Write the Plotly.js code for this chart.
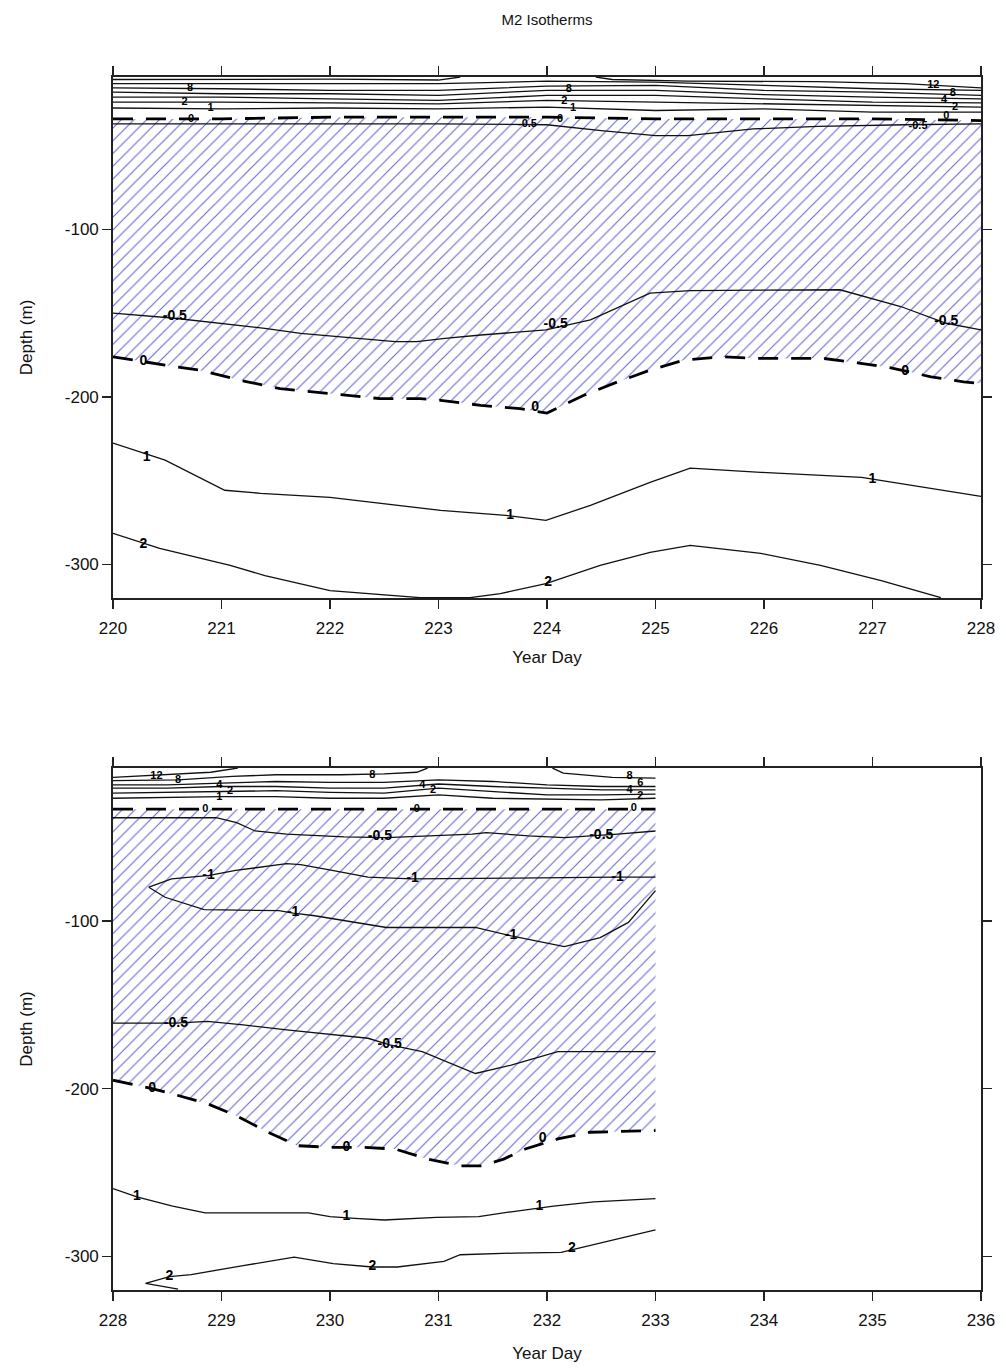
<!DOCTYPE html>
<html><head><meta charset="utf-8">
<script src="https://cdn.plot.ly/plotly-3.0.1.min.js"></script>
<style>body{margin:0;background:#fff}#chart{width:1006px;height:1369px}</style>
</head><body><div id="chart"></div>
<script>
// ---------- TOP PANEL (Year Day 220-228) ----------
const topStations = [220, 221, 222, 223, 224, 225, 226, 227, 228];
const top12X = [220, 221, 222, 223.0, 223.2, null, 224.45, 224.6, 225.3, 226.5, 227.3, 228];
const top12D = [-10.5, -10.5, -10.3, -10.8, -9, null, -9, -10.5, -11.5, -11.8, -13, -15.5];
const topSurf10D = [-13, -13, -13, -13, -11.5, -12, -14, -16, -17];
const topSurf8D  = [-15.5, -16, -17, -17, -14.5, -14, -17, -18, -20];
const topSurf6D  = [-18, -19, -19, -20, -17, -17, -19.5, -21, -22];
const topSurf4D  = [-21, -21, -22, -23, -20, -20, -22, -24, -24.5];
const topSurf2D  = [-24, -24, -24.5, -25, -23, -24, -25, -26, -27];
const topSurf1D  = [-27.5, -28, -27.5, -28, -27, -29, -28, -30, -30];
const top0UpperD = [-34, -34, -33, -33, -33, -34, -34, -34, -35];
const topM05UpperX = [220, 221, 222, 223, 224, 224.5, 225, 225.3, 225.9, 226.5, 227.3, 228];
const topM05UpperD = [-37, -37, -37, -37, -37.5, -41, -44, -44, -40, -38.5, -37.5, -37];
const topM05DeepX = [220, 220.57, 221.4, 221.73, 222.6, 222.8, 223.06, 223.39, 223.99, 224.4, 224.95, 225.32, 226.7, 227.26, 227.68, 228];
const topM05DeepD = [-150, -153, -159, -162, -167, -167, -165, -163, -160, -154, -138, -136.5, -136, -146, -156, -160];
const top0DeepX = [220, 220.28, 220.48, 220.8, 221.17, 221.54, 222.0, 222.46, 222.83, 223.02, 223.39, 223.75, 224.0, 224.34, 224.65, 224.95, 225.26, 225.6, 225.94, 226.25, 226.55, 226.86, 227.17, 227.54, 227.84, 228];
const top0DeepD = [-176, -179, -181, -184, -190, -195, -198, -201, -201, -202, -205, -207, -209.6, -199, -191, -184, -178, -176, -177, -177, -177, -179.6, -182.6, -188, -191, -192];
const top1X = [220, 220.48, 221.03, 221.36, 222.0, 223.02, 223.62, 223.99, 224.4, 224.95, 225.32, 225.97, 226.9, 228];
const top1D = [-227.5, -237.7, -255.7, -257.5, -260, -267.7, -270.7, -273.7, -264.7, -251, -242.5, -245, -248, -259.3];
const top2X = [220, 220.43, 221.08, 221.4, 222.0, 222.65, 222.83, 223.29, 223.57, 223.99, 224.49, 224.95, 225.32, 225.97, 226.52, 227.08, 227.63];
const top2D = [-281.4, -290.4, -300.6, -306.6, -315.6, -319.2, -319.8, -319.8, -317.4, -311.4, -300.6, -292.8, -288.6, -293.4, -300.6, -309.6, -319.8];
const topLabelX = [220.71, 220.66, 220.9, 220.72, 223.82, 224.12, 224.24, 224.16, 224.2, 227.56, 227.74, 227.66, 227.76, 227.68, 227.42, 220.57, 220.28, 220.31, 220.28, 224.08, 223.89, 223.66, 224.01, 227.68, 227.3, 227.0];
const topLabelD = [-15.5, -24, -27.5, -34, -37, -34, -27.5, -23.5, -16.5, -14, -18.5, -23, -27, -32.5, -38.5, -152, -179, -236, -288, -157, -206, -271, -311, -155, -185, -249];
const topLabelT = ['8', '2', '1', '0', '-0.5', '0', '1', '2', '8', '12', '8', '4', '2', '0', '-0.5', '-0.5', '0', '1', '2', '-0.5', '0', '1', '2', '-0.5', '0', '1'];

// ---------- BOTTOM PANEL (Year Day 228-236, data to 233) ----------
const botStations = [228, 228.5, 229, 229.5, 230, 230.5, 231, 231.5, 232, 232.5, 233];
const bot12X = [228, 228.3, 228.9, 229.15];
const bot12D = [-14.5, -13.5, -11.5, -9];
const bot8X = [228, 228.6, 229.1, 229.5, 230.1, 230.5, 230.8, 230.9, null, 232.05, 232.15, 232.6, 233];
const bot8D = [-16.5, -16, -14, -13, -13, -12.5, -11.5, -9, null, -9, -12, -14.5, -15];
const botSurf6D = [-19, -19, -18, -17, -17.5, -17.5, -16, -17, -19, -20, -20];
const botSurf4D = [-21, -21, -20, -20, -21, -21, -18.5, -20, -21, -22, -22];
const botSurf2D = [-24, -23.5, -23, -22.5, -23.5, -24, -21, -23, -25, -25, -24.5];
const botSurf1D = [-27, -26.5, -26, -26, -27, -27, -25, -27, -27.5, -28, -27];
const bot0UpperD = [-33.5, -33.5, -33.5, -33.5, -33.5, -33.5, -33.5, -33.5, -33.5, -33.5, -33.5];
const botM05UpperX = [228, 228.39, 228.95, 229.14, 229.31, 229.6, 230.13, 230.52, 231.01, 231.31, 231.44, 231.83, 232.16, 232.65, 233];
const botM05UpperD = [-38.6, -38.6, -38.6, -41.5, -46.5, -48.4, -50, -50.4, -49, -48.4, -47.5, -49.4, -50.4, -48.4, -46.5];
const botM1UpperX = [228.33, 228.54, 228.89, 229.13, 229.6, 229.73, 230.02, 230.35, 230.75, 231.17, 231.7, 232.62, 233];
const botM1UpperD = [-80, -75, -73, -70, -66, -66.6, -70, -74, -75, -75, -74.6, -74, -74];
const botM1LowerX = [228.33, 228.48, 228.84, 229.53, 229.66, 229.86, 230.52, 231.34, 231.67, 232.16, 232.49, 232.75, 233];
const botM1LowerD = [-80, -86, -93.4, -94, -95.4, -97, -104, -104, -109, -115.4, -110, -101, -82];
const botM05DeepX = [228, 228.58, 228.87, 229.2, 229.6, 230.02, 230.35, 230.55, 230.85, 231.34, 231.67, 232.1, 233];
const botM05DeepD = [-161, -161, -160, -162, -165, -168, -170, -174, -178, -191, -186, -178, -178];
const bot0DeepX = [228, 228.36, 228.54, 228.87, 229.13, 229.43, 229.7, 230.0, 230.3, 230.6, 230.9, 231.2, 231.4, 231.6, 231.8, 232.1, 232.4, 233];
const bot0DeepD = [-195, -200, -203, -209, -216, -226, -234, -235, -235, -236, -242, -246, -246, -242, -236, -230, -226, -225];
const bot1X = [228, 228.22, 228.55, 228.85, 229.8, 230.0, 230.23, 230.5, 230.98, 231.37, 231.67, 232.06, 232.43, 232.9, 233];
const bot1D = [-259.6, -264.5, -270, -274, -274, -276.3, -277.3, -278.3, -276.7, -276.3, -273.4, -270, -267.5, -265.5, -265.5];
const bot2X = [228.6, 228.3, 228.52, 228.72, 229.2, 229.67, 230.03, 230.39, 230.62, 231.05, 231.2, 231.7, 232.13, 232.43, 232.75, 233];
const bot2D = [-319.5, -316, -312, -310.8, -305.5, -300.4, -304.3, -306.3, -306.3, -303, -299, -298, -297.6, -293, -287.8, -284.2];
const botLabelX = [228.40, 228.6, 228.98, 229.08, 228.98, 228.85, 230.39, 230.85, 230.95, 230.8, 232.76, 232.86, 232.76, 232.86, 232.8, 230.46, 232.5, 228.88, 230.76, 232.65, 229.66, 231.67, 228.58, 230.55, 228.36, 230.15, 231.96, 228.22, 230.15, 231.93, 228.52, 230.39, 232.23];
const botLabelD = [-14, -16.5, -19.5, -23, -26.5, -33.5, -13, -19, -22.5, -33.5, -14, -18, -22, -26, -33, -50, -49, -73, -75, -74, -95, -109, -161, -174, -200, -235, -230, -264, -276.5, -270, -312, -306, -295];
const botLabelT = ['12', '8', '4', '2', '1', '0', '8', '4', '2', '0', '8', '6', '4', '2', '0', '-0.5', '-0.5', '-1', '-1', '-1', '-1', '-1', '-0.5', '-0.5', '0', '0', '0', '1', '1', '1', '2', '2', '2'];

const depthTicks = [-100, -200, -300];
const depthTickText = ['-100', '-200', '-300'];

// ---------- BUILD ----------
const traces = [];
function rev(a) { return a.slice().reverse(); }
function hatch(xTop, yTop, xBot, yBot, xa, ya) {
  traces.push({
    type: 'scatter', mode: 'lines', x: xTop.concat(rev(xBot)), y: yTop.concat(rev(yBot)),
    fill: 'toself', fillcolor: 'rgba(255,255,255,0)', line: {width: 0, color: 'rgba(0,0,0,0)'},
    fillpattern: {shape: '/', fgcolor: '#6c6cd6', bgcolor: 'rgba(255,255,255,0)', size: 9, solidity: 0.13},
    xaxis: xa, yaxis: ya, hoverinfo: 'skip', showlegend: false
  });
}
function line(x, y, xa, ya, dashed) {
  traces.push({
    type: 'scatter', mode: 'lines', x: x, y: y, xaxis: xa, yaxis: ya,
    line: dashed ? {color: '#000', width: 2.8, dash: '20px,13px'} : {color: '#111', width: 1.3},
    connectgaps: false, showlegend: false, hoverinfo: 'skip'
  });
}
function labels(x, y, t, xa, ya) {
  // near-surface labels are packed tightly, so they are drawn smaller
  const sizes = y.map(d => (d > -40 ? 11 : 14));
  traces.push({
    type: 'scatter', mode: 'text', x: x, y: y, text: t, xaxis: xa, yaxis: ya,
    textposition: 'middle center',
    textfont: {family: 'Liberation Sans, Arial, sans-serif', size: sizes, color: '#000', weight: 'bold'},
    showlegend: false, hoverinfo: 'skip'
  });
}

// top
hatch(topStations, top0UpperD, top0DeepX, top0DeepD, 'x', 'y');
line(top12X, top12D, 'x', 'y');
[topSurf10D, topSurf8D, topSurf6D, topSurf4D, topSurf2D, topSurf1D].forEach(d => line(topStations, d, 'x', 'y'));
line(topStations, top0UpperD, 'x', 'y', true);
line(topM05UpperX, topM05UpperD, 'x', 'y');
line(topM05DeepX, topM05DeepD, 'x', 'y');
line(top0DeepX, top0DeepD, 'x', 'y', true);
line(top1X, top1D, 'x', 'y');
line(top2X, top2D, 'x', 'y');
labels(topLabelX, topLabelD, topLabelT, 'x', 'y');

// bottom
hatch(botStations, bot0UpperD, bot0DeepX, bot0DeepD, 'x2', 'y2');
line(bot12X, bot12D, 'x2', 'y2');
line(bot8X, bot8D, 'x2', 'y2');
[botSurf6D, botSurf4D, botSurf2D, botSurf1D].forEach(d => line(botStations, d, 'x2', 'y2'));
line(botStations, bot0UpperD, 'x2', 'y2', true);
line(botM05UpperX, botM05UpperD, 'x2', 'y2');
line(botM1UpperX, botM1UpperD, 'x2', 'y2');
line(botM1LowerX, botM1LowerD, 'x2', 'y2');
line(botM05DeepX, botM05DeepD, 'x2', 'y2');
line(bot0DeepX, bot0DeepD, 'x2', 'y2', true);
line(bot1X, bot1D, 'x2', 'y2');
line(bot2X, bot2D, 'x2', 'y2');
labels(botLabelX, botLabelD, botLabelT, 'x2', 'y2');

const font = {family: 'Liberation Sans, Arial, sans-serif', size: 17, color: '#111'};
const ax = {
  showline: true, linecolor: '#222', linewidth: 1.8, mirror: 'ticks', ticks: 'outside',
  ticklen: 9, tickwidth: 1.5, tickcolor: '#222', showgrid: false, zeroline: false,
  tickfont: font, automargin: false
};
const layout = {
  width: 1006, height: 1369,
  margin: {l: 113, r: 25, t: 77, b: 79},
  paper_bgcolor: '#fff', plot_bgcolor: '#fff',
  showlegend: false,
  title: {text: 'M2 Isotherms', xref: 'paper', x: 0.5, xanchor: 'center', yref: 'container', y: 1 - 20 / 1369, yanchor: 'middle', font: {family: 'Liberation Sans, Arial, sans-serif', size: 15, color: '#111'}},
  xaxis: Object.assign({}, ax, {range: [220, 228], dtick: 1, tick0: 220, anchor: 'y', domain: [0, 1], ticklabelstandoff: 5, title: {text: 'Year Day', font: font, standoff: 14}}),
  yaxis: Object.assign({}, ax, {range: [-320, -9], tickvals: depthTicks, ticktext: depthTickText, anchor: 'x', domain: [0.5705, 1], title: {text: 'Depth (m)', font: font, standoff: 28}}),
  xaxis2: Object.assign({}, ax, {range: [228, 236], dtick: 1, tick0: 228, anchor: 'y2', domain: [0, 1], ticklabelstandoff: 5, title: {text: 'Year Day', font: font, standoff: 18}}),
  yaxis2: Object.assign({}, ax, {range: [-320, -9], tickvals: depthTicks, ticktext: depthTickText, anchor: 'x2', domain: [0, 0.4303], title: {text: 'Depth (m)', font: font, standoff: 28}})
};
Plotly.newPlot('chart', traces, layout, {displayModeBar: false, staticPlot: true});
</script></body></html>
